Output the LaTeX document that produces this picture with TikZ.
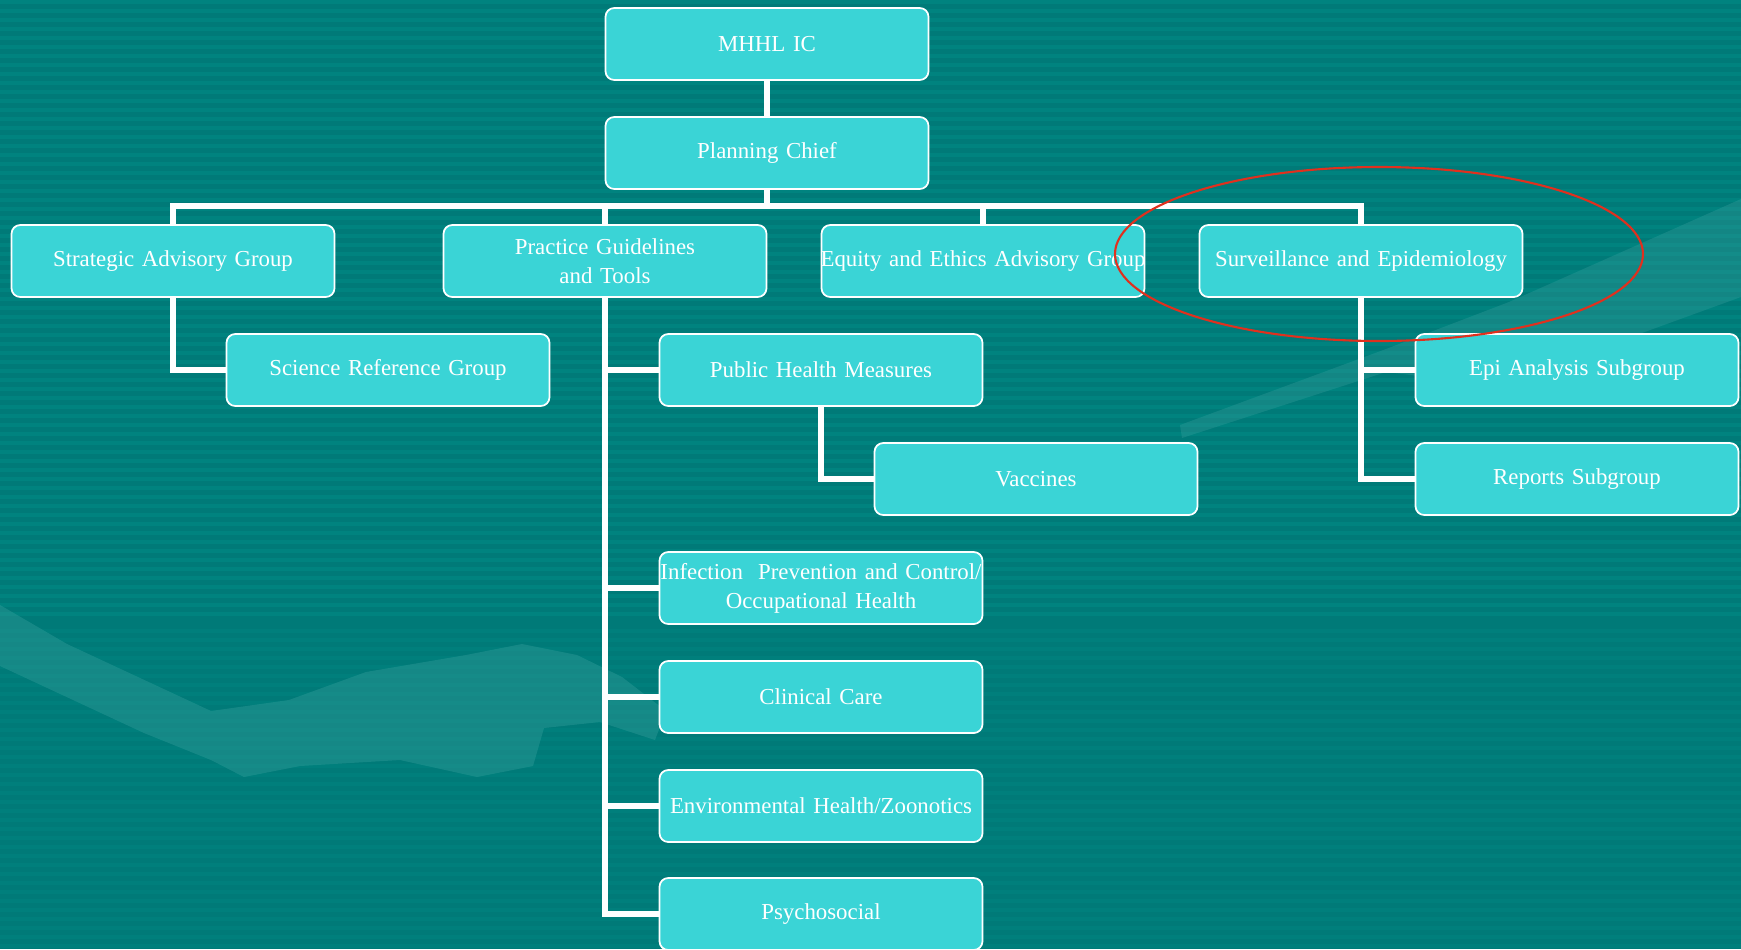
\documentclass[tikz,border=0pt]{standalone}
\usepackage{fontspec}
\setmainfont{Liberation Serif}
\definecolor{bgteal}{HTML}{007A78}
\definecolor{bgstripe}{HTML}{00837F}
\definecolor{bgstripelow}{HTML}{007F7C}
\definecolor{bghand}{HTML}{3FA3A1}
\definecolor{boxcyan}{HTML}{3AD4D6}
\definecolor{ringred}{HTML}{E0301E}
\begin{document}
\begin{tikzpicture}[x=0.2mm,y=-0.2mm,
  unit/.style={draw=white,line width=1pt,fill=boxcyan,rounded corners=5pt,
    text width=6.2cm,inner xsep=0.13cm,inner ysep=0pt,minimum height=1.44cm,
    align=center,text=white,font=\fontsize{13}{16.5}\selectfont},
  wire/.style={draw=white,line width=3.3pt}]
\useasboundingbox (0,0) rectangle (1741,949);
\clip (0,0) rectangle (1741,949);
% background
\fill[bgteal] (0,0) rectangle (1741,949);
\foreach \y in {0,9,...,620}
  \fill[bgstripe] (0,\y) rectangle (1741,\y+4);
\foreach \y in {629,638,...,949}
  \fill[bgstripelow] (0,\y) rectangle (1741,\y+4);
\fill[bghand,opacity=.35] (0,605) -- (67,644) -- (211,711) -- (289,700) -- (366,672)
  -- (466,655) -- (522,644) -- (577,655) -- (622,677) -- (666,711) -- (655,740)
  -- (600,722) -- (544,728) -- (533,766) -- (477,777) -- (400,760) -- (300,766)
  -- (244,777) -- (211,760) -- (144,733) -- (0,666) -- cycle;
\fill[bghand,opacity=.3] (1180,425) -- (1386,349) -- (1509,302) -- (1741,199)
  -- (1741,297) -- (1631,337) -- (1468,382) -- (1386,372) -- (1182,438) -- cycle;
%
\node[unit] (ic) at (767,44) {MHHL IC};
\node[unit] (pc) at (767,153) {Planning Chief};
%
\node[unit] (sag) at (173,261) {Strategic Advisory Group};
\node[unit] (pgt) at (605,261) {Practice Guidelines\\and Tools};
\node[unit] (eea) at (983,261) {\makebox[\linewidth]{Equity and Ethics Advisory Group}};
\node[unit] (sne) at (1361,261) {Surveillance and Epidemiology};
%
\node[unit] (srg) at (388,370) {Science Reference Group};
\node[unit] (phm) at (821,370) {Public Health Measures};
\node[unit] (vac) at (1036,479) {Vaccines};
\node[unit] (epi) at (1577,370) {Epi Analysis Subgroup};
\node[unit] (rep) at (1577,479) {Reports Subgroup};
%
\node[unit] (ipc) at (821,588) {\makebox[\linewidth]{Infection~ Prevention and Control/}\\Occupational Health};
\node[unit] (cc) at (821,697) {Clinical Care};
\node[unit] (ehz) at (821,806) {Environmental Health/Zoonotics};
\node[unit] (psy) at (821,914) {Psychosocial};
%
\coordinate (bus) at (767,206);
\draw[wire] (ic.south) -- (pc.north);
\foreach \n in {sag,pgt,eea,sne}
  \draw[wire] (pc.south) -- (bus) -| (\n.north);
\draw[wire] (sag.south) |- (srg.west);
\foreach \n in {phm,ipc,cc,ehz,psy}
  \draw[wire] (pgt.south) |- (\n.west);
\draw[wire] (phm.south) |- (vac.west);
\foreach \n in {epi,rep}
  \draw[wire] (sne.south) |- (\n.west);
%
\draw[ringred,line width=1.2pt] (1379,254) ellipse [x radius=264,y radius=87];
\end{tikzpicture}
\end{document}
